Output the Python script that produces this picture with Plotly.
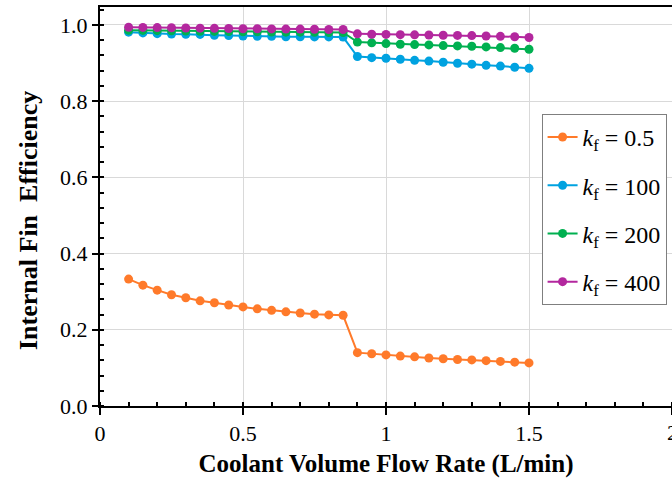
import plotly.graph_objects as go

flow = [0.10, 0.15, 0.20, 0.25, 0.30, 0.35, 0.40, 0.45, 0.50, 0.55, 0.60, 0.65, 0.70, 0.75,
        0.80, 0.85, 0.90, 0.95, 1.00, 1.05, 1.10, 1.15, 1.20, 1.25, 1.30, 1.35, 1.40, 1.45, 1.50]

eff_05 = [0.333, 0.317, 0.304, 0.292, 0.284, 0.276, 0.271, 0.265, 0.260, 0.255, 0.251, 0.247,
          0.244, 0.241, 0.239, 0.238, 0.140, 0.137, 0.134, 0.131, 0.129, 0.126, 0.124, 0.122,
          0.121, 0.119, 0.117, 0.115, 0.113]
eff_100 = [0.981, 0.979, 0.977, 0.976, 0.9755, 0.975, 0.973, 0.972, 0.971, 0.970, 0.970, 0.969,
           0.969, 0.9685, 0.9685, 0.968, 0.917, 0.914, 0.9125, 0.910, 0.907, 0.905, 0.902, 0.8995,
           0.897, 0.894, 0.892, 0.889, 0.886]
eff_200 = [0.986, 0.9855, 0.985, 0.9845, 0.984, 0.9835, 0.983, 0.9825, 0.982, 0.982, 0.9815,
           0.981, 0.981, 0.9805, 0.980, 0.980, 0.955, 0.953, 0.951, 0.9493, 0.9484, 0.9475,
           0.9458, 0.9449, 0.944, 0.9423, 0.9405, 0.9388, 0.936]
eff_400 = [0.994, 0.9935, 0.993, 0.9925, 0.992, 0.9915, 0.991, 0.9905, 0.990, 0.990, 0.9895,
           0.989, 0.989, 0.9885, 0.988, 0.988, 0.9765, 0.9755, 0.975, 0.9745, 0.974, 0.9735,
           0.973, 0.9725, 0.972, 0.971, 0.970, 0.969, 0.967]

names = ["<i>k</i><sub>f</sub> = 0.5", "<i>k</i><sub>f</sub> = 100",
         "<i>k</i><sub>f</sub> = 200", "<i>k</i><sub>f</sub> = 400"]
series = [eff_05, eff_100, eff_200, eff_400]
colors = ["#FF7A2A", "#00A2E0", "#00B050", "#B3279E"]

FONT = "Liberation Serif, Times New Roman, Times, serif"

fig = go.Figure()
for i, (nm, ys, c) in enumerate(zip(names, series, colors)):
    fig.add_trace(go.Scatter(
        x=flow, y=ys, mode="lines+markers", name=nm, legendgroup=f"g{i}",
        line=dict(color=c, width=2), marker=dict(color=c, size=9),
        cliponaxis=False,
    ))

# helper axis for inward part of major x ticks (cross ticks)
fig.add_trace(go.Scatter(x=[0], y=[0], xaxis="x2", mode="markers",
                         marker=dict(opacity=0), showlegend=False, hoverinfo="skip"))

fig.update_layout(
    width=672, height=486,
    margin=dict(l=100, r=0, t=7, b=80),
    paper_bgcolor="white", plot_bgcolor="white",
    font=dict(family=FONT, color="black", size=21),
    showlegend=True,
    legend=dict(
        x=0.772, y=0.732, xanchor="left", yanchor="top",
        bgcolor="white", bordercolor="#7f7f7f", borderwidth=1,
        font=dict(family=FONT, size=24, color="black"),
        tracegroupgap=14, itemwidth=30,
    ),
    xaxis=dict(
        range=[0, 2], dtick=0.5, tickformat="~g",
        showline=True, linecolor="black", linewidth=2, mirror=True,
        ticks="outside", ticklen=7, tickwidth=2, tickcolor="black",
        showgrid=True, gridcolor="#d9d9d9", gridwidth=1,
        zeroline=False,
        minor=dict(dtick=0.1, ticks="inside", ticklen=4, tickwidth=1.5, tickcolor="black",
                   showgrid=False),
        title=dict(text="<b>Coolant Volume Flow Rate (L/min)</b>",
                   font=dict(family=FONT, size=25), standoff=9),
        tickfont=dict(family=FONT, size=22),
    ),
    xaxis2=dict(
        range=[0, 2], dtick=0.5, overlaying="x", anchor="y", side="bottom",
        showticklabels=False, ticks="inside", ticklen=4, tickwidth=2, tickcolor="black",
        showgrid=False, zeroline=False, showline=False,
    ),
    yaxis=dict(
        range=[0, 1.047], dtick=0.2, tickformat=".1f",
        showline=True, linecolor="black", linewidth=2,
        ticks="outside", ticklen=6, tickwidth=2, tickcolor="black",
        showgrid=True, gridcolor="#d9d9d9", gridwidth=1,
        zeroline=False,
        minor=dict(dtick=0.04, ticks="inside", ticklen=4, tickwidth=1.5, tickcolor="black",
                   showgrid=False),
        tickfont=dict(family=FONT, size=22),
    ),
    annotations=[
        dict(text="2", xref="paper", yref="paper", x=1.0, y=0, yshift=-12,
             xanchor="center", yanchor="top", showarrow=False,
             font=dict(family=FONT, size=22, color="black")),
        dict(text="<b>Internal Fin  Efficiency</b>", xref="paper", yref="paper",
             x=-0.126, y=0.466, xanchor="center", yanchor="middle", textangle=-90,
             showarrow=False, font=dict(family=FONT, size=26, color="black")),
    ],
)

fig.write_html("out.html")
